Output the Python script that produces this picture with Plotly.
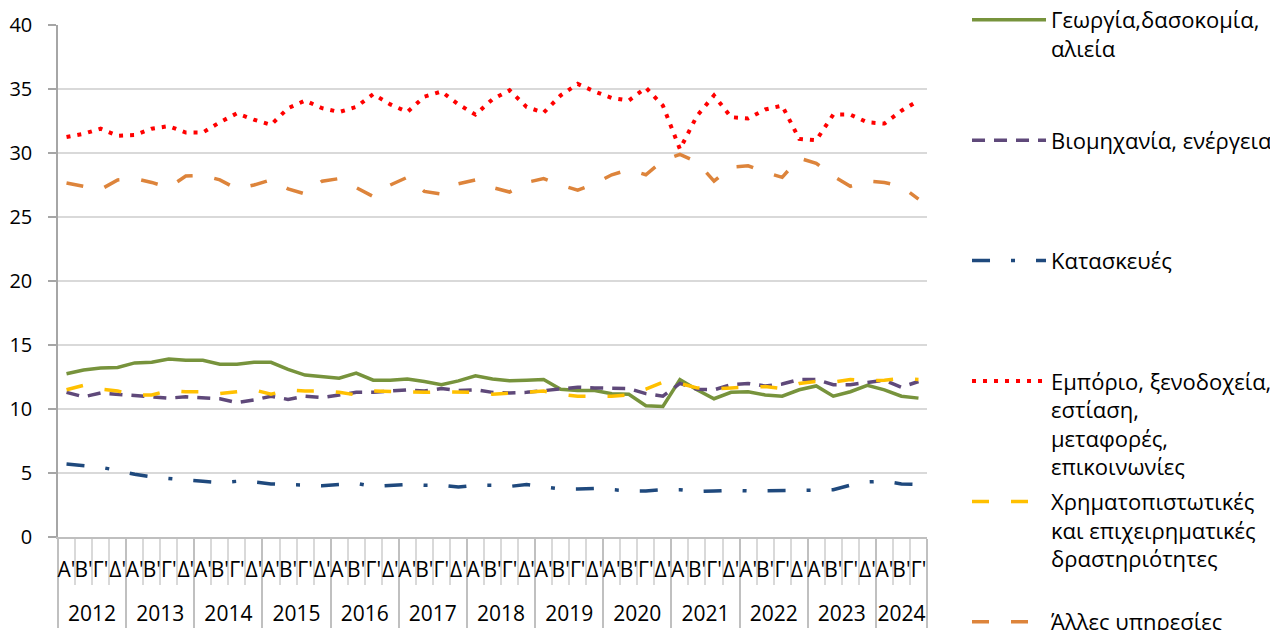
import plotly.graph_objects as go

years = [str(y) for y in range(2012, 2025)]
quarters = ["Α'", "Β'", "Γ'", "Δ'"]
n_points = 51

year_labels = [y for y in years for _ in quarters][:n_points]
# a blank second line under each quarter label makes room for the year row
quarter_labels = [q + "<br>\u00a0" for _ in years for q in quarters][:n_points]

agri = [12.75, 13.05, 13.2, 13.25, 13.6, 13.65, 13.9, 13.8, 13.8, 13.5, 13.5, 13.65, 13.65, 13.1, 12.65, 12.5,
        12.4, 12.8, 12.25, 12.25, 12.35, 12.15, 11.9, 12.2, 12.6, 12.35, 12.2, 12.25, 12.3, 11.55, 11.45, 11.45,
        11.2, 11.15, 10.25, 10.2, 12.3, 11.5, 10.8, 11.3, 11.35, 11.1, 11.0, 11.5, 11.8, 11.0, 11.35, 11.85,
        11.5, 11.0, 10.85]
industry = [11.3, 10.95, 11.25, 11.15, 11.0, 10.9, 10.85, 10.95, 10.9, 10.8, 10.5, 10.7, 11.0, 10.75, 11.0, 10.9,
            11.1, 11.3, 11.3, 11.4, 11.5, 11.4, 11.6, 11.45, 11.5, 11.3, 11.25, 11.3, 11.45, 11.6, 11.7, 11.65,
            11.6, 11.6, 11.2, 11.0, 12.0, 11.55, 11.5, 11.9, 12.0, 11.8, 11.95, 12.3, 12.3, 11.9, 11.9, 12.1,
            12.25, 11.7, 12.15]
construction = [5.7, 5.6, 5.45, 5.2, 4.9, 4.7, 4.55, 4.45, 4.35, 4.25, 4.35, 4.3, 4.15, 4.1, 4.0, 4.0,
                4.1, 4.2, 3.95, 4.0, 4.1, 4.05, 4.05, 3.9, 4.05, 4.05, 3.95, 4.1, 3.9, 3.75, 3.75, 3.8,
                3.7, 3.6, 3.6, 3.7, 3.7, 3.55, 3.6, 3.65, 3.6, 3.6, 3.6, 3.6, 3.65, 3.7, 4.05, 4.3,
                4.35, 4.15, 4.1]
trade = [31.25, 31.5, 31.9, 31.35, 31.4, 31.9, 32.1, 31.6, 31.6, 32.4, 33.1, 32.6, 32.2, 33.5, 34.1, 33.5,
         33.2, 33.6, 34.6, 33.8, 33.2, 34.4, 34.8, 33.8, 33.0, 34.2, 34.9, 33.6, 33.15, 34.5, 35.4, 34.8,
         34.3, 34.1, 35.1, 33.7, 30.3, 32.9, 34.5, 32.8, 32.7, 33.4, 33.7, 31.1, 31.0, 33.0, 33.0, 32.4,
         32.3, 33.3, 34.1]
finance = [11.5, 11.85, 11.55, 11.4, 11.1, 11.1, 11.45, 11.35, 11.35, 11.2, 11.35, 11.5, 11.15, 11.5, 11.4, 11.4,
           11.3, 11.1, 11.4, 11.35, 11.3, 11.3, 11.35, 11.3, 11.3, 11.15, 11.25, 11.35, 11.4, 11.15, 11.0, 11.0,
           11.0, 11.1, 11.55, 12.1, 12.0, 11.65, 11.55, 11.65, 11.7, 11.75, 11.6, 12.0, 12.15, 12.1, 12.3, 12.2,
           12.25, 12.4, 12.3]
other = [27.65, 27.4, 27.15, 27.9, 28.0, 27.7, 27.3, 28.2, 28.25, 27.9, 27.2, 27.5, 27.9, 27.2, 26.8, 27.8,
         28.0, 27.3, 26.6, 27.5, 28.1, 27.0, 26.8, 27.6, 27.9, 27.3, 26.95, 27.7, 28.0, 27.5, 27.1, 27.6,
         28.3, 28.7, 28.3, 29.4, 29.9, 29.3, 27.8, 28.9, 29.0, 28.5, 28.1, 29.6, 29.2, 28.2, 27.4, 27.8,
         27.7, 27.4, 26.4]

PAD = "<br>\u00a0"
series = [
    ("Γεωργία,δασοκομία,<br>αλιεία" + PAD * 2, agri, "#77933C", "solid", 3.5),
    ("Βιομηχανία, ενέργεια" + PAD * 3, industry, "#5F497A", "13px,9px", 3.5),
    ("Κατασκευές" + PAD * 3, construction, "#1F497D", "18px,21px,4px,21px", 3.5),
    ("Εμπόριο, ξενοδοχεία,<br>εστίαση,<br>μεταφορές,<br>επικοινωνίες", trade, "#FF0000", "4px,7px", 4),
    ("Χρηματοπιστωτικές<br>και επιχειρηματικές<br>δραστηριότητες" + PAD, finance, "#FFC000", "17px,22px", 3.5),
    ("Άλλες υπηρεσίες", other, "#DD843B", "17px,22px", 3.5),
]

fig = go.Figure()
for i, (name, vals, color, dash, w) in enumerate(series):
    fig.add_trace(go.Scatter(
        x=[year_labels, quarter_labels], y=vals, name=name, mode="lines",
        legendgroup=f"g{i}",
        line=dict(color=color, width=w, dash=dash),
    ))

n = len(quarter_labels)

FONT = "Open Sans"
fig.update_layout(
    width=1278, height=630,
    margin=dict(l=50, r=359, t=17, b=101, autoexpand=False),
    paper_bgcolor="white", plot_bgcolor="white",
    font=dict(family=FONT, size=20, color="#000000"),
    showlegend=True,
    legend=dict(
        xref="container", yref="paper",
        x=0.7504, y=1.0508, xanchor="left", yanchor="top",
        itemwidth=74, valign="top", tracegroupgap=3,
        font=dict(family=FONT, size=22, color="#000000"),
        bgcolor="rgba(0,0,0,0)", maxheight=900,
    ),
    xaxis=dict(
        type="multicategory", range=[-0.5, n - 0.5], automargin=False,
        tickmode="linear", tick0=0, dtick=1,
        showline=True, linecolor="#bfbfbf", linewidth=1.5,
        ticks="outside", tickson="boundaries", ticklen=46,
        tickcolor="#d9d9d9", tickwidth=1.5,
        showgrid=False, tickangle=0,
        showdividers=True, dividercolor="#c0c0c0", dividerwidth=1.5,
        tickfont=dict(family=FONT, size=21, color="#000000"),
        ticklabelstandoff=13,
    ),
    yaxis=dict(
        range=[0, 40], dtick=5, showgrid=True, gridcolor="#d9d9d9", gridwidth=1.5,
        showline=True, linecolor="#a6a6a6", linewidth=1.5, automargin=False,
        ticks="outside", ticklen=8, tickcolor="#a6a6a6", tickwidth=1.5,
        zeroline=False, ticklabelstandoff=12,
        tickfont=dict(family=FONT, size=20, color="#000000"),
    ),
)

fig.write_html("out.html")
